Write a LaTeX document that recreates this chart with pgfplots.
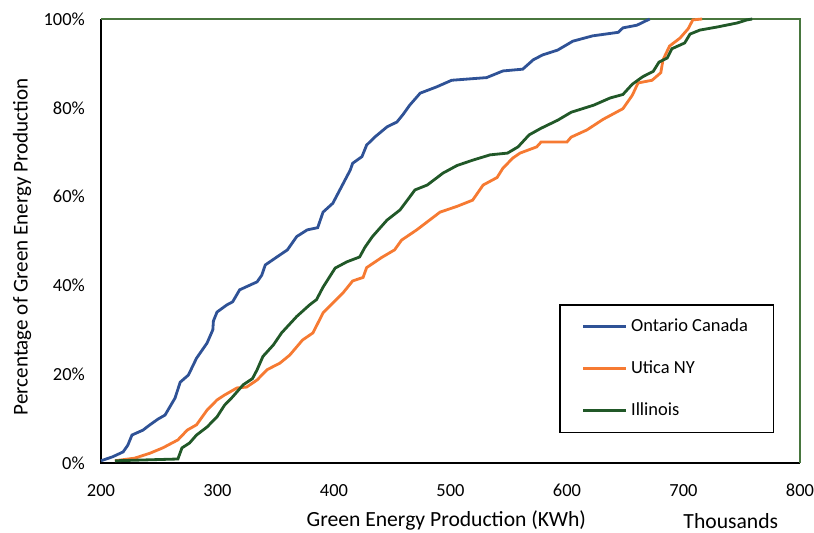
\documentclass[border=0pt]{standalone}
\usepackage{pgfplots}
\pgfplotsset{compat=1.18}
\usepackage{fontspec}
\setmainfont{Carlito}
\definecolor{ontblue}{RGB}{47,82,150}
\definecolor{uticaorange}{RGB}{246,122,50}
\definecolor{illgreen}{RGB}{33,88,40}
\definecolor{frame}{RGB}{72,118,62}
\begin{document}
\begin{tikzpicture}
\begin{axis}[
  scale only axis,
  width=13.98cm, height=8.88cm,
  xmin=200, xmax=800, ymin=0, ymax=100,
  xtick={200,300,...,800},
  ytick={0,20,...,100},
  yticklabels={0\%,20\%,40\%,60\%,80\%,100\%},
  major tick length=0pt,
  axis line style={draw=none},
  /pgf/number format/assume math mode=true,
  tick label style={font=\fontsize{10.5}{12}\selectfont},
  xticklabel style={yshift=-0.3cm},
  yticklabel style={xshift=-0.2cm},
  xlabel={Green Energy Production (KWh)},
  ylabel={Percentage of Green Energy Production},
  xlabel style={font=\fontsize{12.3}{14}\selectfont, at={(axis description cs:0.494,-0.13)}, anchor=center},
  ylabel style={font=\fontsize{12}{14}\selectfont, at={(axis description cs:-0.113,0.487)}, anchor=center, rotate=0},
  clip=false,
  legend style={at={(axis description cs:0.963,0.0676)}, anchor=south east,
    draw=black, line width=0.8pt, font=\fontsize{10.5}{12}\selectfont,
    inner xsep=12.5pt, inner ysep=6pt, row sep=0.39cm},
  legend cell align=left,
  legend image code/.code={\draw[#1] (0cm,0cm) -- (0.86cm,0cm);},
]
\draw[black, line width=1pt] (rel axis cs:0,1) -- (rel axis cs:0,0) -- (rel axis cs:1,0);
\draw[frame, line width=1pt] (rel axis cs:0,1) -- (rel axis cs:1,1) -- (rel axis cs:1,0);
\addplot[color=ontblue, line width=1.6pt] coordinates {
  (200,0.5)(210,1.4)(219,2.5)(223,4)(226.6,6.3)(236,7.4)(242,8.6)(249,9.9)
  (255,10.8)(259,12.6)(263.5,14.6)(268,18.2)(275,19.8)(282,23.6)(291,27)(296,30)
  (296.5,32)(299.6,34)(308,35.6)(313,36.3)(319,39)(334,40.8)(338,42.3)(341,44.6)
  (351,46.4)(360,48)(368,51)(377,52.5)(386,53)(390.6,56.5)(399,58.5)(408,63)
  (414,66)(416,67.5)(424,69)(428,71.6)(435,73.4)(445.5,75.7)(454,76.8)(459,78.4)
  (465,80.6)(474,83.3)(488,84.7)(501,86.2)(531,86.8)(545,88.3)(562,88.7)(571,90.8)
  (579,91.9)(592,93)(605,95)(622,96.2)(644,97)(648,98)(660,98.6)(671,100)};
\addlegendentry{Ontario Canada}
\addplot[color=uticaorange, line width=1.6pt] coordinates {
  (212,0.5)(229,1.1)(242,2.2)(253,3.4)(266,5.2)(274,7.4)(282,8.6)(291,11.9)
  (299.6,14.2)(306,15.3)(316.7,16.9)(325,17.1)(334,18.7)(342.5,21)(353.6,22.5)
  (362,24.3)(373,27.7)(381.9,29.3)(390.6,33.8)(407.7,38.3)(416,41)(425,41.8)
  (428,44)(441,46.3)(452,48)(458,50.2)(471,52.5)(482,54.7)(491,56.5)(505.6,57.8)
  (519,59.2)(528,62.6)(540,64.3)(545,66.4)(553.6,68.7)(559.7,69.8)(574,71.2)
  (577.8,72.3)(600,72.3)(603.6,73.4)(617,75)(631,77.4)(648,79.8)(656,82.8)
  (661,85.6)(673,86.2)(680.5,87.9)(682.4,90.8)(688,93.9)(697,95.7)(704,97.8)
  (708,99.8)(716,100)};
\addlegendentry{Utica NY}
\addplot[color=illgreen, line width=1.6pt] coordinates {
  (212,0.5)(266,0.9)(269.5,3.4)(276,4.5)(282,6.3)(291,8.1)(299.6,10.4)(306,13)
  (313,14.9)(322,17.6)(330,19)(334,21)(339,24)(348,26.6)(355,29.3)(368,33)
  (379,35.6)(385,36.8)(390.6,39.6)(401,43.9)(411,45.3)(422,46.4)(426.6,48.6)
  (433,51)(445.5,54.7)(456.7,57)(469.5,61.5)(480,62.6)(493.6,65.3)(505.6,67)
  (519,68.2)(534,69.4)(549,69.8)(558,71.2)(567.5,73.9)(577.8,75.4)(592,77.2)
  (603.6,79)(623,80.6)(636.9,82.2)(648,83)(656,85.3)(665,87)(674,88.2)(679,90.3)
  (686,91.2)(690,93.3)(701,94.6)(705.6,96.6)(714,97.5)(729,98.2)(746,99.1)
  (754.5,99.8)(759,100)};
\addlegendentry{Illinois}
\node[font=\fontsize{12.3}{14}\selectfont, anchor=center] at (axis description cs:0.901,-0.13) {Thousands};
\end{axis}
\pgfresetboundingbox
\path ([xshift=-2.02cm,yshift=-1.40cm]current axis.south west) rectangle ([xshift=0.28cm,yshift=0.38cm]current axis.north east);
\end{tikzpicture}
\end{document}
